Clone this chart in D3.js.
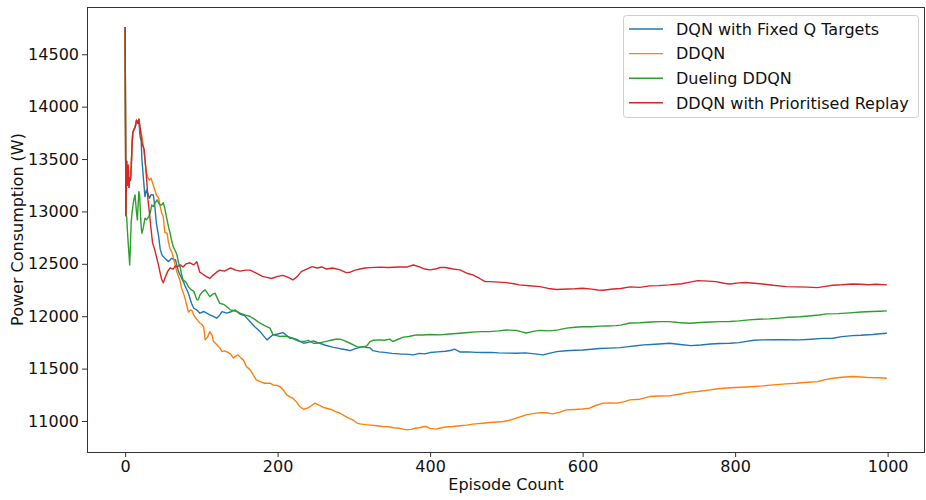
<!DOCTYPE html>
<html>
<head>
<meta charset="utf-8">
<script src="https://cdn.jsdelivr.net/npm/d3@7"></script>
<style>
  html, body { margin: 0; padding: 0; background: #fff; }
  svg { display: block; font-family: "DejaVu Sans", sans-serif; }
</style>
</head>
<body>
<svg id="chart" width="926" height="500"></svg>
<script>
// Running power consumption per training episode, [episode, watts]
const dqnFixedQ = [[0,14760],[1,12960],[2,13480],[3,13250],[4,13440],[5,13230],[6,13320],[7,13300],[8,13420],[9,13620],[10,13750],[12,13790],[13,13800],[15,13870],[17,13840],[18,13880],[19,13760],[20,13700],[21,13682],[22,13500],[24,13317],[26,13141],[28,13205],[30,13170],[32,13126],[34,13160],[37,13157],[39,13046],[41,12887],[44,12760],[46,12640],[48,12590],[50,12569],[54,12540],[57,12521],[61,12553],[64,12540],[66,12540],[68,12480],[70,12426],[74,12362],[77,12320],[79,12282],[81,12250],[83,12219],[87,12124],[90,12076],[94,12060],[98,12029],[103,12045],[107,12030],[111,12013],[115,12000],[120,11981],[124,12010],[127,12044],[133,12029],[138,12040],[144,12060],[151,12020],[157,12003],[164,11948],[170,11900],[177,11853],[183,11800],[186,11774],[190,11800],[194,11822],[200,11830],[207,11844],[212,11815],[216,11790],[220,11790],[226,11775],[234,11742],[240,11750],[247,11765],[252,11750],[258,11735],[264,11720],[272,11705],[282,11690],[290,11680],[295,11671],[302,11690],[308,11703],[312,11710],[317,11700],[321,11700],[325,11671],[333,11660],[340,11655],[350,11645],[360,11640],[368,11638],[378,11631],[386,11645],[393,11640],[400,11653],[410,11660],[420,11665],[428,11675],[432,11685],[439,11659],[450,11660],[460,11655],[469,11653],[480,11655],[490,11650],[500,11648],[513,11647],[525,11650],[537,11640],[548,11631],[556,11645],[566,11662],[578,11670],[590,11675],[600,11678],[612,11685],[622,11692],[635,11695],[649,11700],[660,11710],[670,11718],[680,11726],[690,11730],[700,11735],[714,11742],[728,11730],[742,11719],[755,11725],[768,11735],[780,11740],[793,11742],[805,11748],[815,11760],[825,11770],[836,11774],[850,11776],[865,11775],[884,11774],[900,11780],[915,11788],[928,11790],[940,11805],[954,11815],[965,11818],[980,11825],[990,11832],[999,11838]];

const ddqn = [[0,14760],[1,12960],[2,13480],[3,13250],[4,13440],[5,13230],[6,13320],[7,13300],[8,13420],[9,13620],[10,13750],[12,13790],[13,13800],[15,13870],[17,13840],[18,13880],[20,13780],[21,13746],[22,13720],[24,13618],[26,13491],[28,13364],[30,13320],[32,13300],[34,13317],[37,13250],[39,13205],[41,13157],[44,13126],[46,13046],[48,12985],[50,12950],[52,12800],[55,12792],[57,12700],[59,12640],[61,12616],[64,12540],[66,12473],[68,12420],[70,12378],[72,12340],[74,12267],[77,12210],[79,12156],[81,12100],[83,12040],[86,12060],[88,12050],[90,12010],[92,11990],[95,11960],[98,11935],[101,11917],[103,11900],[105,11774],[108,11800],[111,11853],[114,11820],[116,11758],[120,11730],[124,11700],[127,11662],[130,11670],[133,11662],[138,11640],[142,11600],[144,11615],[148,11631],[152,11600],[155,11583],[159,11520],[164,11488],[168,11440],[172,11392],[177,11376],[183,11360],[190,11361],[194,11344],[199,11340],[203,11329],[208,11290],[212,11249],[216,11230],[220,11217],[225,11180],[229,11138],[234,11112],[240,11125],[245,11150],[249,11170],[255,11150],[260,11130],[264,11122],[270,11110],[276,11090],[282,11074],[290,11040],[295,11020],[299,11010],[304,10980],[308,10972],[315,10965],[322,10960],[330,10955],[338,10947],[345,10945],[352,10935],[360,10930],[369,10915],[375,10920],[380,10930],[386,10935],[391,10945],[395,10947],[400,10930],[408,10922],[415,10935],[423,10945],[430,10948],[439,10954],[448,10960],[456,10970],[463,10975],[469,10979],[478,10985],[488,10990],[496,10995],[503,11005],[510,11020],[518,11040],[526,11058],[535,11070],[544,11080],[552,11078],[561,11068],[570,11085],[579,11106],[590,11110],[600,11115],[609,11122],[618,11150],[627,11170],[635,11172],[645,11170],[655,11185],[662,11201],[675,11208],[688,11233],[700,11238],[714,11240],[730,11260],[741,11275],[751,11281],[765,11295],[775,11305],[784,11313],[800,11320],[815,11325],[836,11335],[850,11345],[867,11354],[880,11360],[895,11370],[908,11376],[918,11395],[928,11408],[940,11418],[954,11424],[965,11420],[976,11414],[988,11412],[999,11408]];

const duelingDdqn = [[0,14760],[1,12960],[2,12950],[3,12820],[4,12700],[6,12490],[8,12900],[9,12985],[11,13096],[13,13157],[15,12985],[16,12919],[18,13189],[19,13150],[21,12855],[22,12792],[24,12850],[26,12935],[28,12920],[31,12950],[33,12990],[35,13062],[37,13046],[39,13078],[42,13110],[44,13080],[46,13062],[48,13062],[50,13085],[52,13030],[55,12919],[57,12850],[59,12792],[61,12720],[63,12664],[66,12620],[68,12585],[70,12510],[72,12473],[74,12400],[76,12346],[79,12330],[81,12310],[83,12282],[87,12251],[90,12240],[94,12156],[96,12156],[98,12200],[101,12230],[105,12251],[108,12220],[111,12187],[115,12210],[118,12219],[121,12170],[124,12124],[130,12110],[135,12080],[138,12060],[144,12050],[151,12029],[158,12010],[164,11997],[170,11970],[177,11933],[183,11910],[190,11886],[194,11822],[199,11815],[203,11806],[208,11810],[212,11806],[216,11800],[222,11780],[229,11758],[234,11758],[240,11770],[247,11742],[251,11742],[258,11750],[264,11760],[270,11770],[276,11780],[282,11781],[288,11765],[295,11742],[300,11725],[304,11710],[310,11705],[317,11716],[321,11758],[325,11770],[334,11774],[340,11770],[347,11781],[351,11758],[358,11780],[365,11800],[372,11806],[382,11822],[390,11820],[400,11825],[413,11822],[425,11830],[439,11838],[450,11845],[460,11850],[469,11853],[478,11853],[490,11860],[500,11868],[513,11865],[520,11850],[526,11840],[535,11855],[544,11865],[557,11860],[568,11870],[579,11886],[590,11895],[600,11900],[612,11900],[622,11905],[631,11907],[644,11910],[650,11915],[662,11935],[675,11938],[690,11945],[703,11948],[714,11948],[725,11940],[740,11933],[755,11940],[768,11945],[780,11948],[793,11950],[805,11955],[818,11965],[830,11971],[845,11975],[858,11982],[870,11990],[885,11995],[900,12005],[910,12012],[920,12022],[935,12025],[950,12032],[965,12040],[980,12045],[990,12048],[999,12051]];

const ddqnPrioritised = [[0,14760],[1,12960],[2,13480],[3,13250],[4,13440],[5,13230],[6,13320],[7,13300],[8,13420],[9,13620],[10,13750],[12,13790],[13,13800],[15,13870],[17,13840],[18,13880],[20,13780],[22,13650],[25,13590],[28,13330],[30,13110],[32,12980],[34,12830],[36,12700],[39,12630],[41,12570],[44,12480],[46,12410],[48,12350],[50,12320],[53,12380],[56,12430],[59,12460],[63,12450],[66,12480],[68,12470],[72,12490],[76,12470],[80,12500],[85,12510],[90,12490],[94,12520],[98,12420],[102,12400],[106,12380],[111,12360],[115,12390],[120,12420],[124,12440],[130,12430],[138,12460],[145,12440],[151,12430],[158,12440],[164,12440],[172,12410],[180,12380],[186,12370],[192,12360],[200,12380],[207,12390],[214,12370],[220,12346],[226,12380],[231,12426],[238,12450],[245,12473],[252,12460],[258,12470],[264,12450],[272,12460],[282,12442],[290,12416],[295,12420],[302,12440],[308,12450],[315,12460],[321,12464],[334,12468],[345,12465],[360,12470],[370,12470],[378,12489],[386,12470],[393,12450],[400,12442],[407,12450],[413,12465],[420,12465],[430,12450],[439,12442],[448,12410],[456,12394],[465,12360],[472,12330],[478,12330],[490,12325],[500,12320],[510,12310],[517,12299],[530,12290],[544,12282],[555,12265],[566,12255],[580,12260],[590,12262],[600,12267],[612,12258],[620,12250],[627,12248],[640,12260],[650,12265],[662,12280],[675,12275],[688,12289],[700,12292],[714,12299],[730,12310],[741,12325],[751,12340],[765,12335],[775,12330],[785,12315],[793,12308],[805,12318],[814,12321],[825,12315],[836,12308],[850,12295],[867,12282],[880,12280],[895,12278],[908,12273],[918,12285],[928,12296],[940,12300],[954,12308],[965,12305],[975,12300],[985,12305],[999,12299]];

const seriesNames = ["DQN with Fixed Q Targets", "DDQN", "Dueling DDQN", "DDQN with Prioritised Replay"];
const seriesData = [dqnFixedQ, ddqn, duelingDdqn, ddqnPrioritised];
const seriesColors = ["#1f77b4", "#ff7f0e", "#2ca02c", "#d62728"];

const xTicks = [0, 200, 400, 600, 800, 1000];
const yTicks = [11000, 11500, 12000, 12500, 13000, 13500, 14000, 14500];
const xDomain = [-50, 1049];
const yDomain = [10704, 14951];

const plot = { left: 87, top: 7, right: 925, bottom: 452 };
const svg = d3.select("#chart");

const x = d3.scaleLinear().domain(xDomain).range([plot.left, plot.right]);
const y = d3.scaleLinear().domain(yDomain).range([plot.bottom, plot.top]);

svg.append("defs").append("clipPath").attr("id", "plotClip")
  .append("rect")
  .attr("x", plot.left).attr("y", plot.top)
  .attr("width", plot.right - plot.left).attr("height", plot.bottom - plot.top);

// series lines
const line = d3.line().x(d => x(d[0])).y(d => y(d[1]));
const lines = svg.append("g").attr("clip-path", "url(#plotClip)");
seriesData.forEach((data, i) => {
  lines.append("path")
    .datum(data)
    .attr("fill", "none")
    .attr("stroke", seriesColors[i])
    .attr("stroke-width", 1.4)
    .attr("stroke-linejoin", "round")
    .attr("d", line);
});

// axes
const xAxis = d3.axisBottom(x).tickValues(xTicks).tickFormat(d3.format("d")).tickSize(5).tickPadding(4);
const yAxis = d3.axisLeft(y).tickValues(yTicks).tickFormat(d3.format("d")).tickSize(5).tickPadding(3);

const gx = svg.append("g").attr("transform", `translate(0,${plot.bottom})`).call(xAxis);
const gy = svg.append("g").attr("transform", `translate(${plot.left},0)`).call(yAxis);
[gx, gy].forEach(g => {
  g.select(".domain").remove();
  g.selectAll(".tick line").attr("stroke", "#333").attr("stroke-width", 1);
  g.selectAll(".tick text").attr("fill", "#111").style("font-size", "16px").style("font-family", "DejaVu Sans");
});

// frame
svg.append("rect")
  .attr("x", plot.left + 0.5).attr("y", plot.top + 0.5)
  .attr("width", plot.right - plot.left - 1).attr("height", plot.bottom - plot.top)
  .attr("fill", "none").attr("stroke", "#333").attr("stroke-width", 1);

// axis titles
svg.append("text")
  .attr("x", (plot.left + plot.right) / 2).attr("y", 490)
  .attr("text-anchor", "middle").attr("fill", "#111")
  .style("font-size", "16px")
  .text("Episode Count");

svg.append("text")
  .attr("transform", `translate(23,${(plot.top + plot.bottom) / 2}) rotate(-90)`)
  .attr("text-anchor", "middle").attr("fill", "#111")
  .style("font-size", "16px")
  .text("Power Consumption (W)");

// legend
const legend = svg.append("g");
legend.append("rect")
  .attr("x", 623.5).attr("y", 15.5).attr("width", 295).attr("height", 102)
  .attr("rx", 3).attr("ry", 3)
  .attr("fill", "#fff").attr("fill-opacity", 0.8)
  .attr("stroke", "#d0d0d0").attr("stroke-width", 1);

seriesNames.forEach((name, i) => {
  const yy = 29 + i * 24.6;
  legend.append("line")
    .attr("x1", 629).attr("x2", 663).attr("y1", yy).attr("y2", yy)
    .attr("stroke", seriesColors[i]).attr("stroke-width", 1.4);
  legend.append("text")
    .attr("x", 676).attr("y", yy + 5.8)
    .attr("fill", "#111")
    .style("font-size", "16px")
    .text(name);
});
</script>
</body>
</html>
